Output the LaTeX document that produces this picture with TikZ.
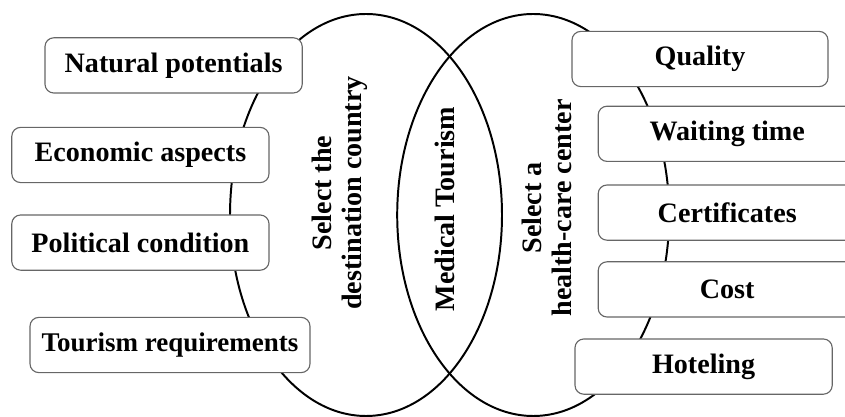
\documentclass[tikz,border=0pt]{standalone}
\usepackage{fontspec}
\setmainfont{Liberation Serif}
\usetikzlibrary{positioning}
\tikzset{
	factor/.style={draw=black!60, line width=0.8pt, rounded corners=0.22cm, fill=white,
		minimum height=1.38cm, inner sep=0pt, font=\fontsize{20}{23}\selectfont\bfseries},
	circle label/.style={rotate=90, align=center, inner sep=0pt,
		font=\fontsize{20}{21.5}\selectfont\bfseries}
}
\begin{document}
\begin{tikzpicture}
	\clip (0,0) rectangle (21.125,10.425);
	\useasboundingbox (0,0) rectangle (21.125,10.425);
	% the two circles
	\draw[line width=1.4pt] (9.15,5.05) ellipse (3.4cm and 5.025cm);
	\draw[line width=1.4pt] (13.33,5.05) ellipse (3.4cm and 5.025cm);
	\node[circle label] (country) at (8.5,5.6) {Select the\\destination country};
	\node[circle label] (medical) at (11.13,5.2) {Medical Tourism};
	\node[circle label] (center) at (13.68,5.23) {Select a\\health-care center};
	% left side
	\node[factor, minimum width=6.43cm] (natural) at (4.34,8.79) {Natural potentials};
	\node[factor, minimum width=6.43cm] (economic) at (3.51,6.55) {Economic aspects};
	\node[factor, minimum width=6.43cm] (political) at (3.51,4.36) {Political condition};
	\node[factor, minimum width=7.0cm, font=\fontsize{19.2}{22}\selectfont\bfseries] (requirements) at (4.25,1.8) {Tourism requirements};
	% right side
	\node[factor, minimum width=6.4cm] (quality) at (17.5,8.95) {Quality};
	\node[factor, minimum width=6.45cm] (waiting) at (18.18,7.08) {Waiting time};
	\node[factor, minimum width=6.45cm] (certificates) at (18.18,5.11) {Certificates};
	\node[factor, minimum width=6.45cm] (cost) at (18.18,3.19) {Cost};
	\node[factor, minimum width=6.43cm] (hoteling) at (17.59,1.26) {Hoteling};
\end{tikzpicture}
\end{document}
